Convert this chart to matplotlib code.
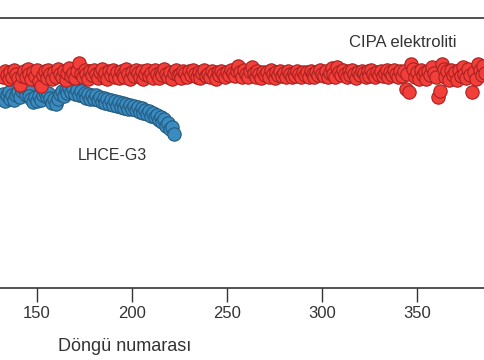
import numpy as np
import matplotlib
matplotlib.use("Agg")
import matplotlib.pyplot as plt

plt.rcParams['font.family'] = ['Liberation Sans', 'DejaVu Sans']

# LHCE-G3, cycles 131..222 (capacity retention, %)
blue_start = 131
blue = [84.0, 86.2, 83.0, 85.6, 87.0, 84.2, 86.0, 83.4, 85.9, 87.2,
        85.0, 87.6, 88.3, 86.0, 87.8, 85.5, 84.0, 82.6, 84.8, 83.0,
        85.4, 83.6, 86.0, 87.2, 85.0, 86.8, 84.6, 82.2, 84.2, 81.8,
        84.0, 86.2, 87.4, 85.4, 88.0, 86.6, 88.8, 87.0, 89.0, 86.4,
        88.2, 85.8, 87.6, 85.2, 86.8, 84.6, 86.4, 84.2, 85.8, 83.8,
        85.6, 83.4, 85.0, 82.8, 84.6, 82.4, 84.0, 82.0, 83.6, 81.4,
        83.0, 81.0, 82.6, 80.6, 82.2, 80.2, 81.6, 79.6, 81.2, 79.4,
        80.8, 79.0, 80.4, 78.4, 80.0, 77.8, 79.2, 77.2, 78.6, 76.6,
        77.8, 75.8, 77.0, 74.8, 76.0, 73.6, 75.0, 72.2, 73.4, 70.6,
        71.6, 68.6]

# CIPA elektroliti, cycles 131..386
red_start = 131
red = [95.3, 93.6, 96.6, 94.7, 92.8, 95.8, 93.9, 96.9, 95.0, 93.2,
       90.4, 94.4, 96.3, 93.7, 97.2, 95.2, 93.1, 96.1, 94.2, 96.8,
       92.1, 89.9, 94.8, 96.4, 93.4, 97.1, 95.3, 92.9, 96.0, 94.0,
       97.4, 95.0, 93.6, 96.3, 92.6, 95.5, 97.6, 94.4, 95.6, 93.4,
       96.6, 100.2, 95.2, 93.9, 96.9, 95.0, 93.1, 96.4, 94.5, 97.1,
       95.3, 93.4, 96.1, 97.4, 94.0, 95.5, 92.8, 96.3, 94.8, 96.8,
       93.7, 95.8, 93.2, 96.6, 95.2, 93.9, 97.2, 95.0, 92.9, 96.0,
       94.4, 96.9, 95.5, 93.6, 96.4, 93.1, 95.3, 97.1, 94.2, 95.6,
       93.4, 96.8, 95.0, 93.2, 96.1, 94.7, 97.4, 95.3, 93.7, 96.0,
       92.8, 95.6, 97.1, 94.5, 95.2, 93.4, 96.6, 95.5, 94.0, 96.3,
       94.8, 96.9, 95.0, 93.6, 96.0, 93.2, 95.5, 96.8, 94.4, 95.3,
       93.9, 96.4, 95.2, 93.1, 95.8, 94.5, 96.6, 95.3, 93.6, 96.1,
       94.7, 97.1, 95.6, 94.2, 96.4, 98.5, 96.0, 93.9, 96.8, 95.0,
       93.7, 96.3, 98.2, 95.5, 94.0, 96.6, 95.2, 93.2, 96.1, 94.7,
       95.8, 93.9, 96.8, 95.0, 93.4, 96.0, 94.5, 96.4, 94.2, 95.5,
       93.6, 96.3, 95.0, 93.7, 95.6, 94.4, 96.6, 95.2, 93.9, 96.1,
       94.8, 95.8, 93.7, 96.4, 95.0, 94.0, 96.0, 94.7, 96.8, 95.3,
       94.2, 96.3, 93.6, 95.5, 97.6, 95.0, 93.9, 98.2, 96.0, 94.5,
       96.9, 95.2, 94.0, 96.4, 94.7, 97.1, 95.3, 93.4, 96.1, 94.8,
       96.6, 95.5, 93.7, 96.3, 94.4, 96.9, 95.2, 93.9, 96.0, 94.7,
       96.4, 94.2, 95.6, 96.8, 93.7, 96.1, 94.8, 97.1, 95.0, 94.0,
       96.3, 94.4, 96.6, 88.4, 95.3, 87.1, 99.6, 97.2, 93.6, 96.1,
       93.1, 96.9, 94.5, 95.8, 92.8, 96.6, 94.8, 98.4, 95.5, 93.7,
       84.9, 87.6, 99.5, 97.4, 94.0, 96.3, 92.6, 97.1, 94.7, 96.0,
       92.5, 96.8, 94.2, 98.2, 95.3, 93.2, 97.2, 94.5, 87.3, 95.8,
       92.8, 99.4, 96.9, 94.7, 98.6, 95.6]

xticks = [150, 200, 250, 300, 350]

blue_x = np.arange(blue_start, blue_start + len(blue))
red_x = np.arange(red_start, red_start + len(red))

fig = plt.figure(figsize=(4.85, 3.6), dpi=100)
ax = fig.add_axes([0.0, 0.2, 1.0, 0.75])

ax.scatter(blue_x, blue, s=92, color='#3a8bc0', edgecolor='#245a80', linewidth=0.8, zorder=2)
ax.scatter(red_x, red, s=92, color='#f23f3a', edgecolor='#a82020', linewidth=0.8, zorder=3)

ax.set_xlim(130.5, 385.8)
ax.set_ylim(0, 120)
ax.set_xticks(xticks)
ax.set_yticks([])
ax.tick_params(axis='x', length=10, width=1, color='#333333', labelsize=12,
               labelcolor='#333333', pad=3)
for s in ['left', 'right']:
    ax.spines[s].set_visible(False)
for s in ['top', 'bottom']:
    ax.spines[s].set_color('#333333')
    ax.spines[s].set_linewidth(1.2)

ax.set_xlabel('Döngü numarası', fontsize=13, color='#333333', va='center')
ax.xaxis.set_label_coords(0.258, -0.215)

ax.text(189.5, 59.1, 'LHCE-G3', fontsize=11.5, color='#333333', ha='center', va='center')
ax.text(342.6, 108.9, 'CIPA elektroliti', fontsize=12, color='#333333', ha='center', va='center')

fig.savefig('out.png', dpi=100)
